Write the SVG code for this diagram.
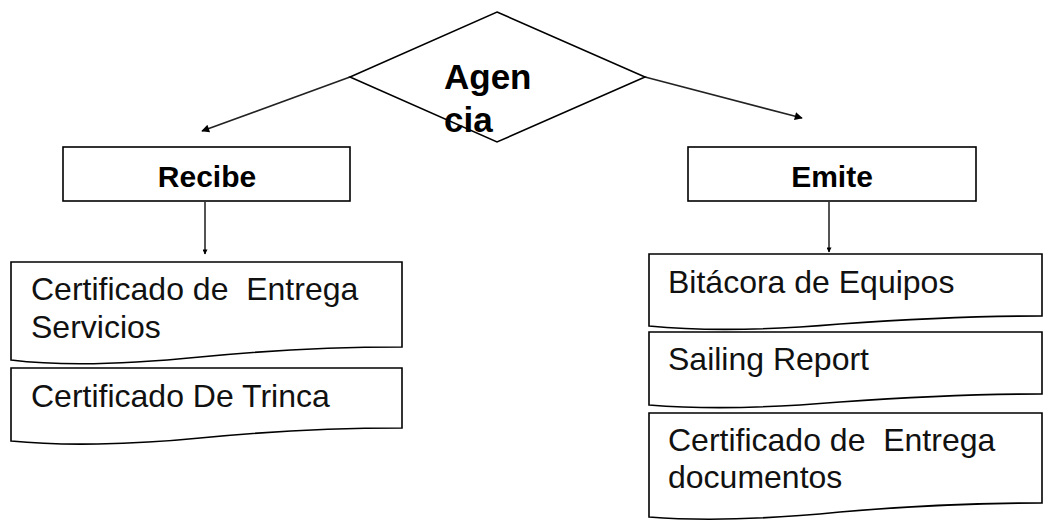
<svg xmlns="http://www.w3.org/2000/svg" width="1045" height="529" viewBox="0 0 1045 529">
<style>
.shape{fill:#fff;stroke:#000;stroke-width:1.6}
.bold{font-family:"Liberation Sans",Arial,sans-serif;font-weight:bold;fill:#000}
.reg{font-family:"Liberation Sans",Arial,sans-serif;font-size:32px;fill:#111;white-space:pre}
.conn{stroke:#222;stroke-width:1.6;fill:none}
.vconn{stroke:#555;stroke-width:2;fill:none}
</style>
<defs>
<marker id="ah" viewBox="0 0 10 10" refX="9" refY="5" markerWidth="9" markerHeight="8" orient="auto" markerUnits="userSpaceOnUse">
<path d="M0,0 L10,5 L0,10 Z" fill="#000"/>
</marker>
<marker id="ahs" viewBox="0 0 10 10" refX="9" refY="5" markerWidth="6" markerHeight="5" orient="auto" markerUnits="userSpaceOnUse">
<path d="M0,0 L10,5 L0,10 Z" fill="#000"/>
</marker>
</defs>
<rect width="1045" height="529" fill="#fff"/>
<g id="connectors">
<line class="conn" x1="350" y1="77" x2="202" y2="131" marker-end="url(#ah)"/>
<line class="conn" x1="645" y1="77" x2="802" y2="118" marker-end="url(#ah)"/>
<line class="vconn" x1="205" y1="202" x2="205" y2="254" marker-end="url(#ahs)"/>
<line class="vconn" x1="829" y1="202" x2="829" y2="252" marker-end="url(#ahs)"/>
</g>
<g id="agencia">
<polygon class="shape" points="497,12 645,77 497,142 350,77"/>
<text class="bold" font-size="35" x="444" y="89">Agen</text>
<text class="bold" font-size="35" x="444" y="132">cia</text>
</g>
<g id="recibe">
<rect class="shape" x="63" y="147" width="287" height="54"/>
<text class="bold" font-size="30" x="207" y="187" text-anchor="middle">Recibe</text>
</g>
<g id="emite">
<rect class="shape" x="688" y="147" width="288" height="54"/>
<text class="bold" font-size="30" x="832" y="187" text-anchor="middle">Emite</text>
</g>
<g id="cert-servicios">
<path class="shape" d="M11,262 H402 V347 C340,347 270,350 200,357 C130,364 60,366 11,360 Z"/>
<text class="reg" x="31" y="300" xml:space="preserve">Certificado de  Entrega</text>
<text class="reg" x="31" y="338">Servicios</text>
</g>
<g id="cert-trinca">
<path class="shape" d="M11,368 H402 V428 C340,428 270,431 200,438 C130,445 60,446 11,441 Z"/>
<text class="reg" x="31" y="407">Certificado De Trinca</text>
</g>
<g id="bitacora">
<path class="shape" d="M649,254 H1042 V316 C980,316 910,319 840,324 C770,330 700,331 649,326 Z"/>
<text class="reg" x="668" y="293">Bitácora de Equipos</text>
</g>
<g id="sailing">
<path class="shape" d="M649,332 H1042 V394 C980,394 910,397 840,402 C770,408 700,409 649,405 Z"/>
<text class="reg" x="668" y="370">Sailing Report</text>
</g>
<g id="cert-documentos">
<path class="shape" d="M649,413 H1042 V503 C980,503 910,506 840,512 C770,519 700,521 649,517 Z"/>
<text class="reg" x="668" y="451" xml:space="preserve">Certificado de  Entrega</text>
<text class="reg" x="668" y="488">documentos</text>
</g>
</svg>
